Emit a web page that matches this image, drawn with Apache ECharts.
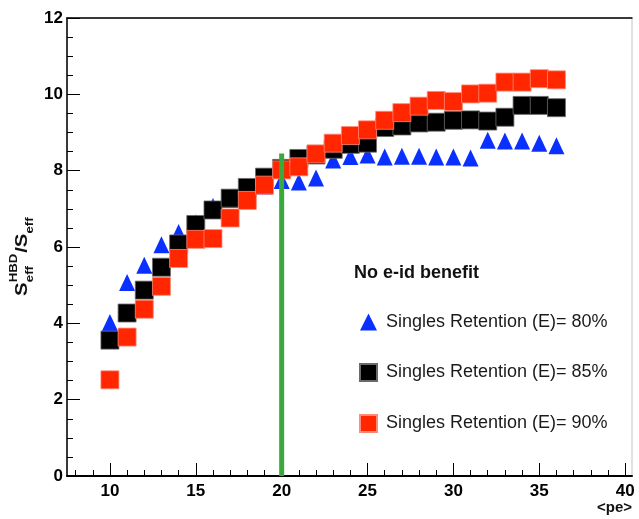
<!DOCTYPE html>
<html>
<head>
<meta charset="utf-8">
<script src="https://cdn.jsdelivr.net/npm/echarts@6/dist/echarts.min.js"></script>
<style>
  html, body { margin: 0; padding: 0; background: #fff; }
  #main { width: 639px; height: 519px; }
</style>
</head>
<body>
<div id="main"></div>
<script>
// <pe> values
var pe = [10, 11, 12, 13, 14, 15, 16, 17, 18, 19, 20, 21, 22, 23, 24, 25, 26, 27, 28, 29, 30, 31, 32, 33, 34, 35, 36];
// Singles Retention (E)= 80%
var ret80 = [4.02, 5.07, 5.52, 6.06, 6.38, 6.63, 7.06, 7.25, 7.50, 7.60, 7.74, 7.70, 7.81, 8.28, 8.37, 8.41, 8.36, 8.38, 8.38, 8.36, 8.36, 8.33, 8.80, 8.78, 8.78, 8.72, 8.65];
// Singles Retention (E)= 85%
var ret85 = [3.56, 4.27, 4.87, 5.47, 6.08, 6.59, 6.97, 7.28, 7.56, 7.83, 8.06, 8.32, 8.41, 8.56, 8.69, 8.72, 9.13, 9.17, 9.25, 9.27, 9.32, 9.33, 9.30, 9.40, 9.71, 9.71, 9.65];
// Singles Retention (E)= 90%
var ret90 = [2.52, 3.64, 4.37, 4.97, 5.70, 6.20, 6.22, 6.76, 7.22, 7.62, 8.02, 8.10, 8.44, 8.72, 8.92, 9.07, 9.32, 9.52, 9.69, 9.84, 9.81, 10.01, 10.03, 10.32, 10.32, 10.41, 10.38];
// green cut line at <pe> = 20
var cutLine = [[20, 0], [20, 8.45]];
var seriesNames = ['Singles Retention (E)= 80%', 'Singles Retention (E)= 85%', 'Singles Retention (E)= 90%'];
var xMajor = [10, 15, 20, 25, 30, 35, 40];
var xMinor = [8, 9, 11, 12, 13, 14, 16, 17, 18, 19, 21, 22, 23, 24, 26, 27, 28, 29, 31, 32, 33, 34, 36, 37, 38, 39, 40];

function pairs(ys) {
    return pe.map(function (x, i) { return [x, ys[i]]; });
}

var font = 'Liberation Sans, Arial, sans-serif';
var chart = echarts.init(document.getElementById('main'));

var option = {
    animation: false,
    backgroundColor: '#fff',
    grid: {
        left: 67, right: 7, top: 18, bottom: 43,
        show: true, borderColor: '#c4c4c4', borderWidth: 1
    },
    xAxis: [
        {
            type: 'value', min: 7.5, max: 40.4, position: 'bottom',
            axisLine: { show: true, lineStyle: { color: '#000', width: 2 } },
            axisTick: { show: true, inside: true, length: 13, customValues: xMajor, lineStyle: { color: '#000', width: 1 } },
            axisLabel: { customValues: xMajor, margin: 7, color: '#000', fontFamily: font, fontWeight: 'bold', fontSize: 17 },
            splitLine: { show: false }
        },
        {
            type: 'value', min: 7.5, max: 40.4, position: 'bottom',
            axisLine: { show: false },
            axisTick: { show: true, inside: true, length: 6, customValues: xMinor, lineStyle: { color: '#000', width: 1 } },
            axisLabel: { show: false },
            splitLine: { show: false }
        },
        {
            type: 'value', min: 7.5, max: 40.4, position: 'top',
            axisLine: { show: true, lineStyle: { color: '#000', width: 1.5 } },
            axisTick: { show: false }, axisLabel: { show: false }, splitLine: { show: false }
        }
    ],
    yAxis: {
        type: 'value', min: 0, max: 12, interval: 2,
        axisLine: { show: true, lineStyle: { color: '#000', width: 1.5 } },
        axisTick: { show: true, inside: true, length: 13, lineStyle: { color: '#000', width: 1 } },
        minorTick: { show: true, splitNumber: 4, length: 6, lineStyle: { color: '#000', width: 1 } },
        axisLabel: { margin: 4, color: '#000', fontFamily: font, fontWeight: 'bold', fontSize: 17 },
        splitLine: { show: false }
    },
    legend: {
        orient: 'vertical', left: 354, top: 308,
        itemWidth: 17, itemHeight: 17, itemGap: 32,
        selectedMode: false,
        textStyle: { color: '#1a1a1a', fontFamily: font, fontSize: 18, lineHeight: 18, padding: [0, 0, 0, 4] },
        data: [
            { name: seriesNames[0], icon: 'triangle' },
            { name: seriesNames[1], icon: 'rect' },
            { name: seriesNames[2], icon: 'rect' }
        ]
    },
    series: [
        {
            name: seriesNames[0], type: 'scatter', symbol: 'triangle', symbolSize: [16, 17],
            itemStyle: { color: '#0a30ff', opacity: 1 }, z: 2,
            data: pairs(ret80)
        },
        {
            name: seriesNames[1], type: 'scatter', symbol: 'rect', symbolSize: 18,
            itemStyle: { color: '#000', borderColor: '#6a6a6a', borderWidth: 0.8, opacity: 1 }, z: 3,
            data: pairs(ret85)
        },
        {
            name: seriesNames[2], type: 'scatter', symbol: 'rect', symbolSize: 18,
            itemStyle: { color: '#ff2600', borderColor: '#ff8a78', borderWidth: 0.8, opacity: 1 }, z: 4,
            data: pairs(ret90)
        },
        {
            name: 'cut', type: 'line', data: cutLine, symbol: 'none', z: 5,
            lineStyle: { color: '#3aa83a', width: 5 },
            silent: true
        }
    ],
    graphic: [
        {
            type: 'text', left: 354, top: 264,
            style: { text: 'No e-id benefit', fill: '#111', font: 'bold 18px ' + font }
        },
        {
            type: 'text', right: 7, top: 500,
            style: { text: '<pe>', fill: '#111', font: 'bold 15px ' + font }
        },
        {
            type: 'group', x: 22, y: 296, rotation: Math.PI / 2, scaleX: 1.2,
            children: [
                { type: 'text', x: 0, y: 0, style: { text: 'S', fill: '#111', font: 'bold 17px ' + font, verticalAlign: 'middle' } },
                { type: 'text', x: 11.5, y: -8, style: { text: 'HBD', fill: '#111', font: 'bold 11px ' + font, verticalAlign: 'middle' } },
                { type: 'text', x: 11.5, y: 8, style: { text: 'eff', fill: '#111', font: 'bold 11px ' + font, verticalAlign: 'middle' } },
                { type: 'text', x: 36, y: 0, style: { text: '/S', fill: '#111', font: 'bold 17px ' + font, verticalAlign: 'middle' } },
                { type: 'text', x: 52, y: 8, style: { text: 'eff', fill: '#111', font: 'bold 11px ' + font, verticalAlign: 'middle' } }
            ]
        }
    ]
};
chart.setOption(option);
</script>
</body>
</html>
